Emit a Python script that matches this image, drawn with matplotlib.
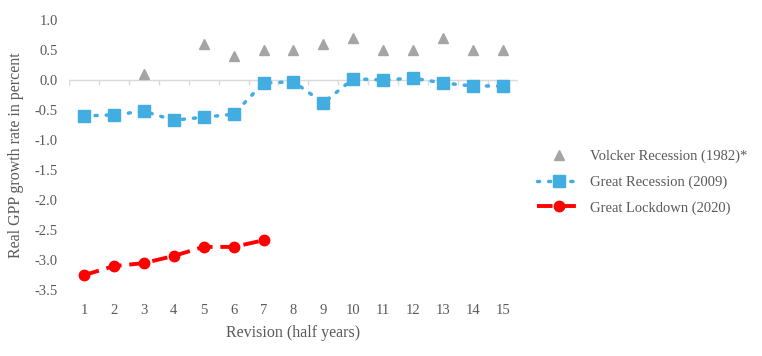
import numpy as np
import matplotlib.pyplot as plt

plt.rcParams['font.family'] = ['Liberation Serif', 'DejaVu Serif']

# Revision number (half years)
revisions = list(range(1, 16))

# Volcker Recession (1982)* - no values for revisions 1, 2 and 4
volcker_x = [3, 5, 6, 7, 8, 9, 10, 11, 12, 13, 14, 15]
volcker = [0.1, 0.6, 0.4, 0.5, 0.5, 0.6, 0.7, 0.5, 0.5, 0.7, 0.5, 0.5]

# Great Recession (2009)
great_recession = [-0.60, -0.58, -0.52, -0.67, -0.62, -0.57, -0.05, -0.03,
                   -0.38, 0.02, 0.00, 0.03, -0.05, -0.10, -0.10]

# Great Lockdown (2020)
lockdown_x = [1, 2, 3, 4, 5, 6, 7]
lockdown = [-3.25, -3.10, -3.05, -2.93, -2.78, -2.78, -2.67]

text_col = "#595959"

fig = plt.figure(figsize=(7.62, 3.56), dpi=100)
ax = fig.add_axes([0.0906, 0.185, 0.589, 0.759])

ax.plot(volcker_x, volcker, linestyle="none", marker="^", color="#A5A5A5",
        markersize=6.5, label="Volcker Recession (1982)*")
ax.plot(revisions, great_recession, linestyle=(0, (0.6, 2.6)), linewidth=2.5,
        dash_capstyle="round", marker="s", color="#41ADE1", markersize=8,
        label="Great Recession (2009)")
ax.plot(lockdown_x, lockdown, linestyle=(0, (4, 2)), linewidth=2.8, marker="o",
        color="#FF0000", markersize=7.5, label="Great Lockdown (2020)")

# horizontal axis line at zero with category tick marks
ax.axhline(0, color="#D9D9D9", linewidth=1, zorder=0)
ax.vlines(np.arange(0.5, 16, 1), -0.08, 0, color="#D9D9D9", linewidth=1, zorder=0)

ax.set_xlim(0.5, 15.5)
ax.set_ylim(-3.5, 1.0)
ax.set_xticks(revisions)
ax.set_yticks(np.arange(-3.5, 1.01, 0.5))
ax.set_yticklabels([f"{v:.1f}" for v in np.arange(-3.5, 1.01, 0.5)])
ax.tick_params(length=0, labelsize=10.5, labelcolor=text_col)
ax.tick_params(axis="x", pad=10)
ax.tick_params(axis="y", pad=8)
for s in ax.spines.values():
    s.set_visible(False)

ax.set_xlabel("Revision (half years)", fontsize=11.5, color=text_col, labelpad=6)
ax.set_ylabel("Real GPP growth rate in percent", fontsize=11.5, color=text_col, labelpad=8)

fig.legend(loc="upper left", bbox_to_anchor=(0.688, 0.617), frameon=False,
           fontsize=10.5, labelcolor=text_col, handlelength=3.0, handletextpad=0.6,
           labelspacing=0.85)

plt.savefig("out.png", dpi=100)
